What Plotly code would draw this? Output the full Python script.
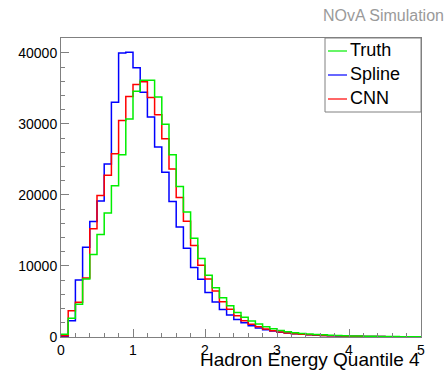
import plotly.graph_objects as go

# ---- data ----
bin_edges = [round(0.1 * i, 1) for i in range(51)]

truth = [380, 2640, 4610, 8150, 11600, 14430, 17450, 21300, 25670, 30700,
         34600, 36160, 36160, 33800, 29950, 25670, 21200, 17590, 13920, 11070,
         8690, 6950, 5540, 4400, 3450, 2780, 2250, 1830, 1450, 1150,
         910, 750, 610, 500, 420, 350, 300, 250, 210, 180,
         150, 130, 110, 95, 80, 70, 60, 50, 45, 40]

spline = [80, 2300, 8040, 12650, 16260, 19150, 24350, 33050, 40000, 40100,
          37900, 34460, 30990, 26760, 23180, 19080, 15500, 12510, 9780, 8130,
          6250, 4930, 3880, 3100, 2460, 2000, 1600, 1280, 1030, 830,
          680, 560, 460, 380, 310, 260, 215, 180, 150, 125,
          105, 90, 75, 65, 55, 45, 40, 35, 30, 25]

cnn = [180, 3700, 4900, 8320, 15230, 19930, 22780, 25790, 30490, 33850,
       35540, 35950, 33720, 31310, 27900, 23650, 19650, 16300, 12900, 10100,
       8150, 6490, 4980, 3900, 3000, 2300, 1790, 1450, 1130, 870,
       700, 570, 470, 390, 320, 270, 225, 190, 160, 135,
       115, 95, 80, 70, 60, 50, 45, 40, 35, 30]

series = [("Spline", spline, "#0000ff"), ("CNN", cnn, "#ff0000"), ("Truth", truth, "#00ee00")]
legend_order = [("Truth", "#00ee00"), ("Spline", "#0000ff"), ("CNN", "#ff0000")]

x_title = "Hadron Energy Quantile 4"
corner_label = "NOvA Simulation"
y_max = 42100

FONT = "Liberation Sans, Arial, Helvetica, sans-serif"

fig = go.Figure()
for name, vals, col in series:
    fig.add_trace(go.Scatter(
        x=bin_edges, y=list(vals) + [vals[-1]],
        mode="lines", line=dict(color=col, width=1.5, shape="hv"),
        name=name, showlegend=False, hoverinfo="skip"))

axis_common = dict(
    showgrid=False, zeroline=False, showline=True, linecolor="#808080",
    linewidth=1, mirror=True, ticks="inside", tickcolor="#808080",
    tickwidth=1, tickfont=dict(family=FONT, size=14, color="black"),
)

fig.update_xaxes(range=[0, 5], dtick=1, tick0=0, ticklen=8,
                 minor=dict(dtick=0.2, ticklen=4, ticks="inside", tickcolor="#808080"),
                 **axis_common)
fig.update_yaxes(range=[0, y_max], dtick=10000, tick0=0, ticklen=8, tickformat="d",
                 minor=dict(dtick=2000, ticklen=4, ticks="inside", tickcolor="#808080"),
                 **axis_common)

# plot-area geometry in px (for paper-coordinate helpers)
L, R, T, B = 61, 24, 38, 37
W, H = 445, 374
pw, ph = W - L - R, H - T - B

def px(xp):
    return (xp - L) / pw

def py(yp):
    return (H - B - yp) / ph

shapes = [dict(type="rect", xref="paper", yref="paper",
               x0=px(325), x1=1, y0=py(112), y1=1,
               line=dict(color="#808080", width=1), fillcolor="white", layer="above")]
annotations = []
for i, (name, col) in enumerate(legend_order):
    yc = 51 + 24 * i
    shapes.append(dict(type="line", xref="paper", yref="paper",
                       x0=px(328), x1=px(347), y0=py(yc), y1=py(yc),
                       line=dict(color=col, width=1.2), layer="above"))
    annotations.append(dict(text=name, xref="paper", yref="paper",
                            x=px(348), y=py(yc - 1), xanchor="left", yanchor="middle",
                            showarrow=False, font=dict(family=FONT, size=18, color="black")))

annotations.append(dict(text=x_title, xref="paper", yref="paper", x=1, y=0,
                        xanchor="right", yanchor="bottom", yshift=-35, xshift=1,
                        showarrow=False, font=dict(family=FONT, size=19, color="black")))
annotations.append(dict(text=corner_label, xref="paper", yref="paper", x=px(446), y=py(15),
                        xanchor="right", yanchor="middle",
                        showarrow=False, font=dict(family=FONT, size=16, color="#9a9a9a")))

fig.update_layout(
    width=W, height=H, margin=dict(l=L, r=R, t=T, b=B, pad=0),
    paper_bgcolor="white", plot_bgcolor="white",
    shapes=shapes, annotations=annotations, showlegend=False,
)

fig.write_html("out.html")
